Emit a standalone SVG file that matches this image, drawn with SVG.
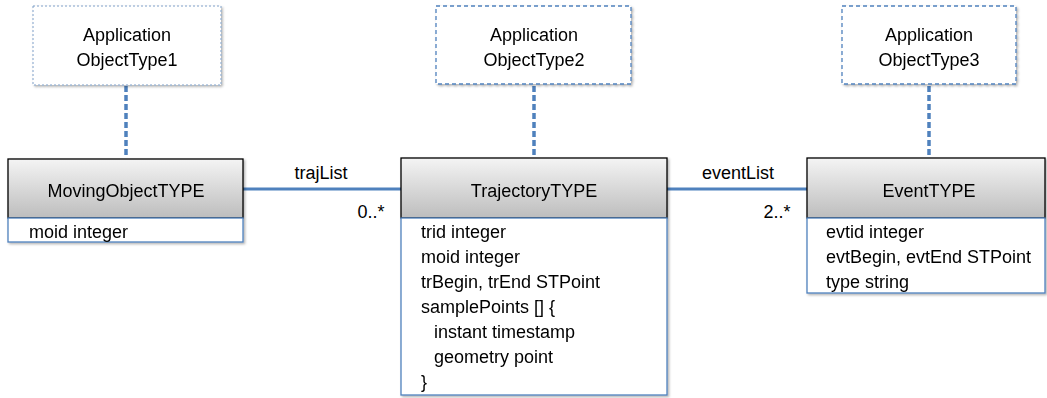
<svg xmlns="http://www.w3.org/2000/svg" width="1047" height="398" viewBox="0 0 1047 398">
<style>
text{font-family:"Liberation Sans",Arial,sans-serif;font-size:18px;fill:#000}
.c{text-anchor:middle}
.hdr{fill:url(#g);stroke:#000;stroke-width:1.3}
.att{fill:#fff;stroke:#4f81bd;stroke-width:1.3}
.app{fill:#fff;stroke:#4f81bd;stroke-width:1.3;stroke-dasharray:4 3}
.app1{fill:#fff;stroke:#7f9fc8;stroke-width:1;stroke-dasharray:2 2}
.dep{stroke:#4f81bd;stroke-width:3.5;stroke-dasharray:6 3;fill:none}
.assoc{stroke:#4f81bd;stroke-width:3;fill:none}
</style>
<defs>
<linearGradient id="g" x1="0" y1="0" x2="0" y2="1">
<stop offset="0" stop-color="#f4f4f4"/>
<stop offset="1" stop-color="#bdbdbd"/>
</linearGradient>
<filter id="sh" x="-5%" y="-5%" width="115%" height="120%">
<feDropShadow dx="1.5" dy="1.5" stdDeviation="1.2" flood-color="#000" flood-opacity="0.3"/>
</filter>
</defs>
<g id="connectors">
<line class="dep" x1="126" y1="86" x2="126" y2="158"/>
<line class="dep" x1="534" y1="86" x2="534" y2="158"/>
<line class="dep" x1="929" y1="86" x2="929" y2="158"/>
<line class="assoc" x1="243" y1="189" x2="401" y2="189"/>
<line class="assoc" x1="667" y1="189" x2="807" y2="189"/>
<text x="321" y="179" class="c">trajList</text>
<text x="371" y="218" class="c">0..*</text>
<text x="738" y="179" class="c">eventList</text>
<text x="777" y="218" class="c">2..*</text>
</g>
<g id="app1" filter="url(#sh)">
<rect class="app1" x="33" y="6" width="188" height="79"/>
<text x="127" y="41" class="c">Application</text>
<text x="127" y="66" class="c">ObjectType1</text>
</g>
<g id="app2" filter="url(#sh)">
<rect class="app" x="436" y="6" width="195" height="78"/>
<text x="534" y="41" class="c">Application</text>
<text x="534" y="66" class="c">ObjectType2</text>
</g>
<g id="app3" filter="url(#sh)">
<rect class="app" x="842" y="6" width="174" height="78"/>
<text x="929" y="41" class="c">Application</text>
<text x="929" y="66" class="c">ObjectType3</text>
</g>
<g id="movingobject" filter="url(#sh)">
<rect class="hdr" x="8" y="159" width="235" height="59"/>
<rect class="att" x="8" y="218" width="235" height="24"/>
<text x="126" y="197" class="c">MovingObjectTYPE</text>
<text x="29" y="238">moid integer</text>
</g>
<g id="trajectory" filter="url(#sh)">
<rect class="hdr" x="401" y="158" width="266" height="60"/>
<rect class="att" x="401" y="218" width="266" height="177"/>
<text x="534" y="197" class="c">TrajectoryTYPE</text>
<text x="421" y="238">trid integer</text>
<text x="421" y="263">moid integer</text>
<text x="421" y="288">trBegin, trEnd STPoint</text>
<text x="421" y="313">samplePoints [] {</text>
<text x="434" y="338">instant timestamp</text>
<text x="434" y="363">geometry point</text>
<text x="421" y="388">}</text>
</g>
<g id="event" filter="url(#sh)">
<rect class="hdr" x="807" y="158" width="238" height="60"/>
<rect class="att" x="807" y="218" width="238" height="75"/>
<text x="929" y="197" class="c">EventTYPE</text>
<text x="826" y="238">evtid integer</text>
<text x="826" y="263">evtBegin, evtEnd STPoint</text>
<text x="826" y="288">type string</text>
</g>
</svg>
